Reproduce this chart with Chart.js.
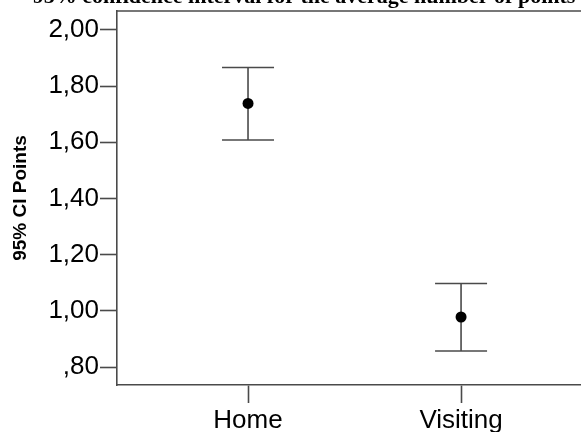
<!DOCTYPE html>
<html>
<head>
<meta charset="utf-8">
<script src="https://cdn.jsdelivr.net/npm/chart.js@4.4.1/dist/chart.umd.min.js"></script>
<style>
  html, body { margin: 0; padding: 0; background: #ffffff; }
  #wrap { width: 581px; height: 432px; position: relative; }
</style>
</head>
<body>
<div id="wrap"><canvas id="c" width="581" height="432"></canvas></div>
<script>
// ---- data ----
const categories = ["Home", "Visiting"];
const meanValues = [1.738, 0.978];
const lowerValues = [1.608, 0.857];
const upperValues = [1.866, 1.097];
const yTickValues = [0.8, 1.0, 1.2, 1.4, 1.6, 1.8, 2.0];
const yTickLabels = [",80", "1,00", "1,20", "1,40", "1,60", "1,80", "2,00"];
const yAxisTitle = "95% CI Points";
const chartTitle = "- 95% confidence interval for the average number of points";

const lineColor = "#4a4a4a";

const whiskerSets = categories.map((c, i) => ({
  type: "line",
  data: [{x: i + 1, y: lowerValues[i]}, {x: i + 1, y: upperValues[i]}],
  borderColor: lineColor,
  borderWidth: 1.6,
  pointRadius: 0,
  showLine: true,
  order: 3
}));

const capSet = {
  type: "scatter",
  data: categories.flatMap((c, i) => [{x: i + 1, y: lowerValues[i]}, {x: i + 1, y: upperValues[i]}]),
  pointStyle: "line",
  pointRadius: 26,
  pointHoverRadius: 26,
  borderColor: lineColor,
  pointBorderColor: lineColor,
  borderWidth: 1.6,
  pointBorderWidth: 1.6,
  order: 2
};

const meanSet = {
  type: "scatter",
  data: categories.map((c, i) => ({x: i + 1, y: meanValues[i]})),
  pointRadius: 5.5,
  pointBackgroundColor: "#000000",
  pointBorderColor: "#000000",
  pointBorderWidth: 0,
  order: 1
};

const frame = {
  id: "frame",
  afterDraw(chart) {
    const ctx = chart.ctx, a = chart.chartArea;
    ctx.save();
    ctx.strokeStyle = lineColor;
    ctx.lineWidth = 1.6;
    ctx.beginPath();
    ctx.moveTo(a.left, a.top);
    ctx.lineTo(a.right + 2, a.top);
    ctx.stroke();
    // cut-off title above the frame
    ctx.fillStyle = "#000";
    ctx.font = "bold 22px 'Liberation Serif', 'Times New Roman', serif";
    ctx.textBaseline = "alphabetic";
    ctx.textAlign = "left";
    ctx.fillText(chartTitle, 20, 3);
    ctx.restore();
  }
};

function noPad(scale) {
  scale.paddingTop = 0; scale.paddingBottom = 0;
  scale.paddingLeft = 0; scale.paddingRight = 0;
}

new Chart(document.getElementById("c"), {
  type: "scatter",
  data: { datasets: [meanSet, capSet, ...whiskerSets] },
  options: {
    responsive: false,
    animation: false,
    events: [],
    layout: { autoPadding: false, padding: { top: 11, right: 0, left: 0, bottom: 0 } },
    plugins: { legend: { display: false }, tooltip: { enabled: false }, title: { display: false } },
    scales: {
      x: {
        type: "linear",
        min: 0.385,
        max: 2.563,
        afterBuildTicks(scale) { scale.ticks = categories.map((c, i) => ({ value: i + 1 })); },
        afterFit(scale) { scale.height = 47; noPad(scale); },
        ticks: {
          autoSkip: false,
          maxRotation: 0,
          padding: 2,
          color: "#000",
          font: { family: "'Liberation Sans', Arial, sans-serif", size: 26 },
          callback: (v) => categories[v - 1]
        },
        grid: { drawOnChartArea: false, drawTicks: true, tickLength: 18, tickColor: lineColor, tickWidth: 1.6 },
        border: { display: true, color: lineColor, width: 1.6 }
      },
      y: {
        type: "linear",
        min: 0.736,
        max: 2.067,
        afterBuildTicks(scale) { scale.ticks = yTickValues.map(v => ({ value: v })); },
        afterFit(scale) { scale.width = 117; noPad(scale); },
        ticks: {
          padding: 1,
          color: "#000",
          font: { family: "'Liberation Sans', Arial, sans-serif", size: 26 },
          callback: (v) => { const k = yTickValues.findIndex(t => Math.abs(t - v) < 1e-6); return k >= 0 ? yTickLabels[k] : ""; }
        },
        grid: { drawOnChartArea: false, drawTicks: true, tickLength: 17, tickColor: lineColor, tickWidth: 1.6 },
        border: { display: true, color: lineColor, width: 1.6 },
        title: {
          display: true,
          text: yAxisTitle,
          color: "#000",
          font: { family: "'Liberation Sans', Arial, sans-serif", size: 19, weight: "bold" },
          padding: { top: 9, bottom: 0 }
        }
      }
    }
  },
  plugins: [frame]
});
</script>
</body>
</html>
